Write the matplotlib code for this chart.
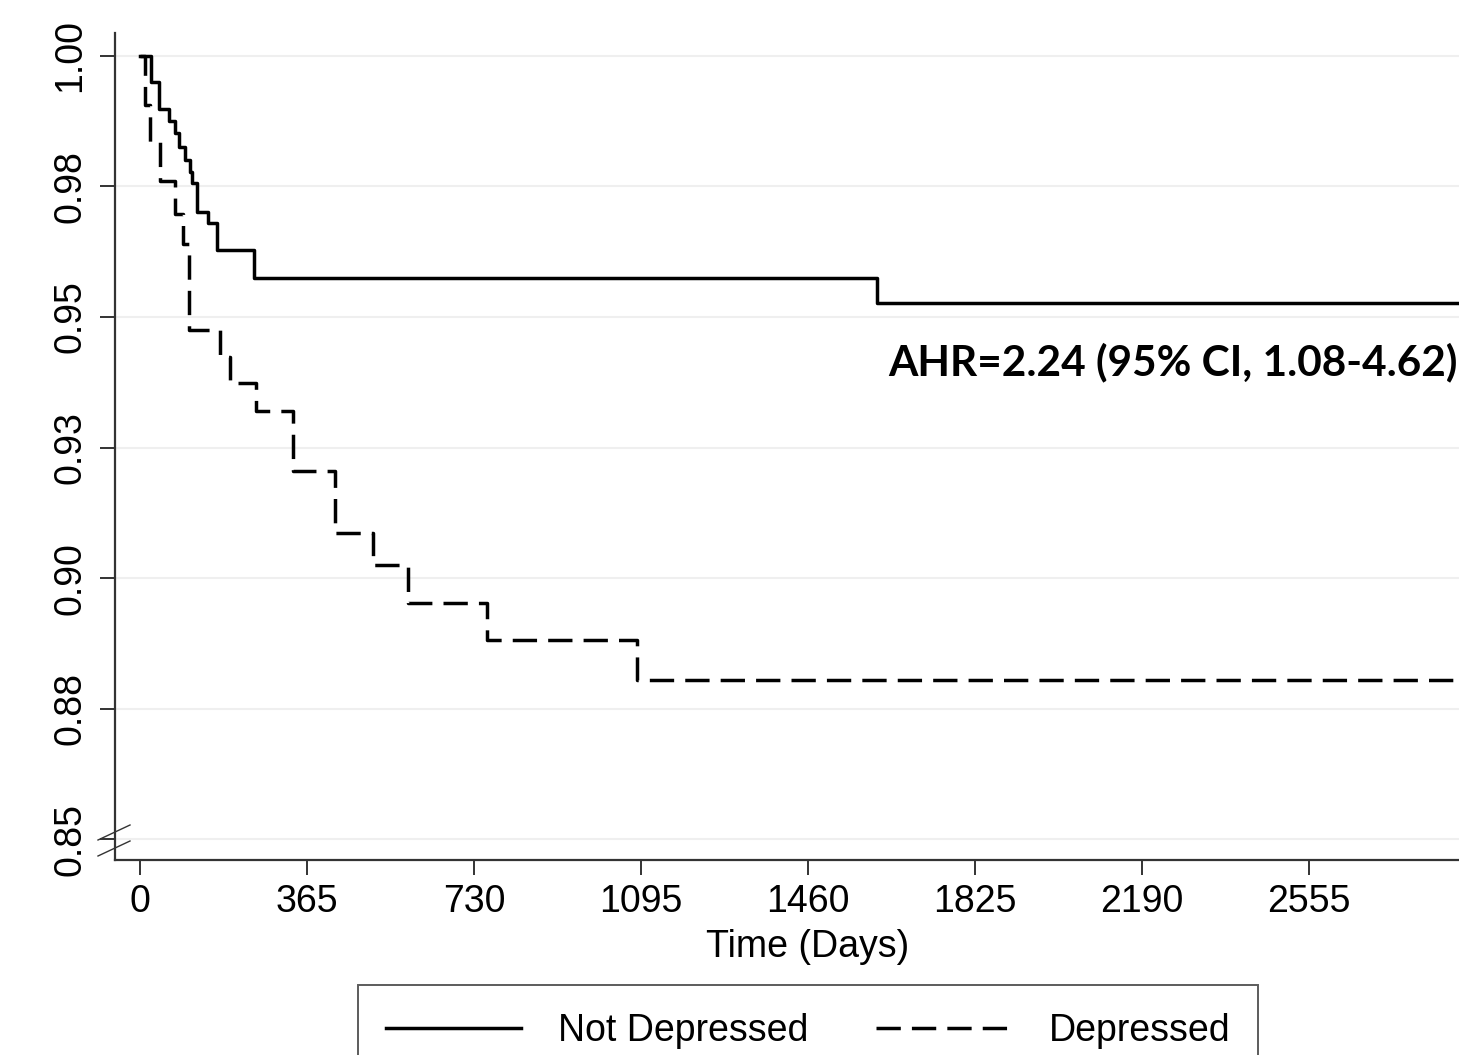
import matplotlib
matplotlib.use("Agg")
import matplotlib.pyplot as plt
from matplotlib.lines import Line2D

# Kaplan-Meier step data (days, survival probability)
not_dep_days = [0, 23, 41, 62, 76, 85, 98, 109, 114, 125, 149, 168, 249, 1611, 2975]
not_dep_surv = [1.0, 0.995, 0.9898, 0.9875, 0.9852, 0.9826, 0.9801, 0.9778, 0.9757,
                0.9701, 0.968, 0.9628, 0.9575, 0.9527, 0.9527]

dep_days = [0, 11, 22, 44, 76, 94, 107, 175, 197, 254, 334, 426, 509, 586, 758, 1086, 2975]
dep_surv = [1.0, 0.9906, 0.9835, 0.9761, 0.9697, 0.964, 0.9475, 0.9423, 0.9374, 0.932,
            0.9205, 0.9086, 0.9025, 0.8952, 0.8881, 0.8805, 0.8805]

x_ticks = [0, 365, 730, 1095, 1460, 1825, 2190, 2555]
y_ticks = [1.0, 0.975, 0.95, 0.925, 0.9, 0.875, 0.85]
y_labels = ['1.00', '0.98', '0.95', '0.93', '0.90', '0.88', '0.85']

plt.rcParams['font.family'] = ['Liberation Sans', 'DejaVu Sans']

W, H = 1459, 1055
fig = plt.figure(figsize=(W / 100, H / 100), dpi=100)
ax = fig.add_axes([115 / W, 1 - 860 / H, (1501 - 115) / W, (860 - 33) / H])

ax.step(not_dep_days, not_dep_surv, where='post', color='black', lw=2.5,
        label='Not Depressed')
ax.step(dep_days, dep_surv, where='post', color='black', lw=2.5,
        dashes=(7, 3.2), label='Depressed')

ax.set_xlim(-55, 2975)
ax.set_ylim(0.846, 1.0044)
ax.set_xticks(x_ticks)
ax.set_yticks(y_ticks)
ax.set_yticklabels(y_labels, rotation=90, va='center')
ax.tick_params(labelsize=27, length=11, width=1.4, color='#333333', pad=8)
ax.tick_params(axis='x', pad=6)
ax.yaxis.grid(True, color='#efefef', lw=1.5)
ax.set_axisbelow(True)
for s in ['top', 'right']:
    ax.spines[s].set_visible(False)
for s in ['left', 'bottom']:
    ax.spines[s].set_linewidth(1.6)
    ax.spines[s].set_color('#333333')

ax.set_xlabel('Time (Days)', fontsize=27, labelpad=7)

ax.text(1635, 0.9414, 'AHR=2.24 (95% CI, 1.08-4.62)', fontsize=30.5,
        fontweight='bold', family=['Lato', 'DejaVu Sans'], va='center', ha='left')

# axis break marks
for y0 in [825, 841]:
    fig.add_artist(Line2D([130 / W, 98 / W], [1 - y0 / H, 1 - (y0 + 15) / H],
                          color='#333333', lw=1.0, transform=fig.transFigure))

leg = fig.legend(handles=ax.get_lines(), loc='upper center',
                 bbox_to_anchor=(808 / W, 1 - 985 / H), ncol=2, fontsize=27,
                 frameon=True, fancybox=False, handlelength=3.6,
                 handletextpad=1.0, columnspacing=1.8, borderpad=0.75,
                 borderaxespad=0)
leg.get_frame().set_edgecolor('#333333')
leg.get_frame().set_linewidth(1.4)

fig.savefig('out.png', dpi=100)
